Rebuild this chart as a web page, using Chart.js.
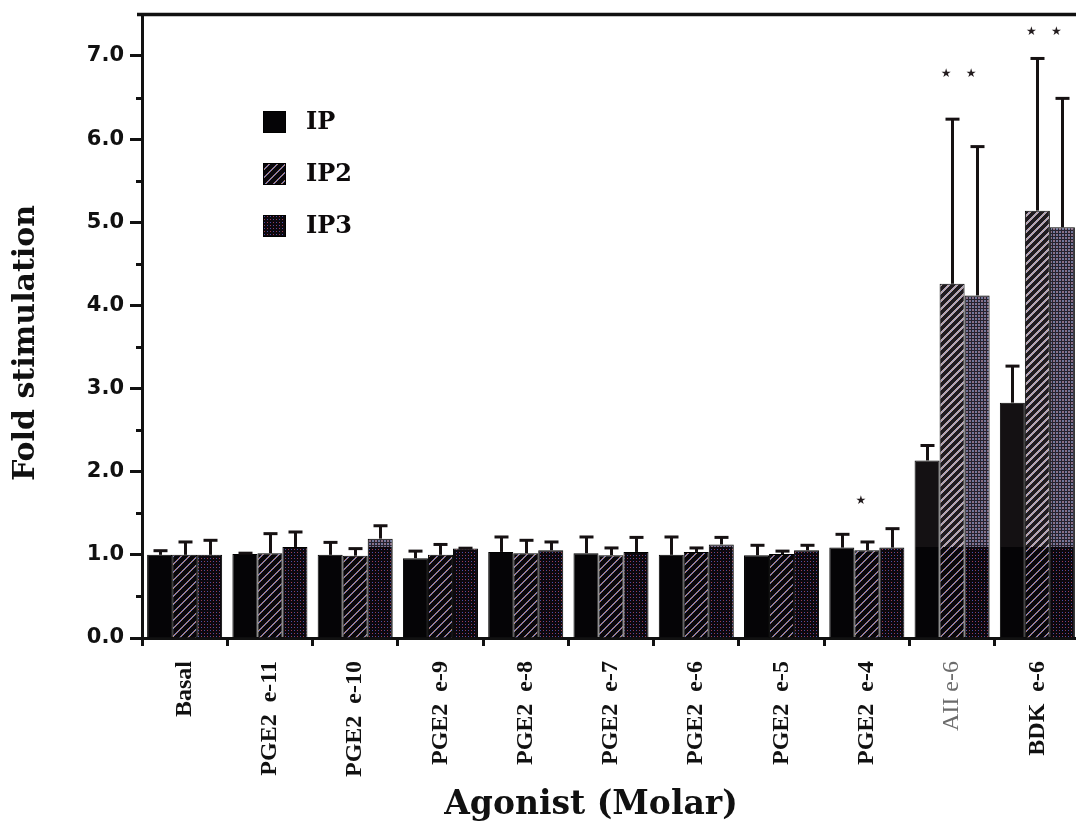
<!DOCTYPE html>
<html>
<head>
<meta charset="utf-8">
<style>
  html, body { margin: 0; padding: 0; background: #ffffff; overflow: hidden; width: 1076px; height: 826px; }
  #wrap { position: relative; width: 1090px; height: 826px; }
  canvas { display: block; }
</style>
<script src="https://cdn.jsdelivr.net/npm/chart.js@4.4.1/dist/chart.umd.min.js"></script>
</head>
<body>
<div id="wrap"><canvas id="c" width="1090" height="826"></canvas></div>
<script>
// ---------------- data ----------------
const categories = ['Basal', 'PGE2  e-11', 'PGE2  e-10', 'PGE2  e-9', 'PGE2  e-8', 'PGE2  e-7',
                    'PGE2  e-6', 'PGE2  e-5', 'PGE2  e-4', 'AII e-6', 'BDK  e-6'];
const seriesNames = ['IP', 'IP2', 'IP3'];

const ipValues  = [1.00, 1.01, 1.00, 0.96, 1.035, 1.02, 1.00, 0.995, 1.087, 2.135, 2.83];
const ip2Values = [1.00, 1.02, 0.99, 1.00, 1.02, 0.995, 1.035, 1.01, 1.055, 4.26, 5.14];
const ip3Values = [1.00, 1.095, 1.195, 1.075, 1.055, 1.035, 1.125, 1.055, 1.087, 4.12, 4.94];

const ipErrors  = [0.05, 0.01, 0.15, 0.085, 0.18, 0.195, 0.215, 0.12, 0.16, 0.18, 0.44];
const ip2Errors = [0.155, 0.235, 0.085, 0.125, 0.155, 0.088, 0.048, 0.035, 0.10, 1.98, 1.83];
const ip3Errors = [0.175, 0.18, 0.155, 0.005, 0.10, 0.175, 0.085, 0.06, 0.228, 1.79, 1.55];

// significance markers (*) : level (in fold units) per category, and which series are marked
const starLevels     = [null, null, null, null, null, null, null, null, 1.65, 6.79, 7.29];
const ipSignificant  = [0, 0, 0, 0, 0, 0, 0, 0, 0, 0, 0];
const ip2Significant = [0, 0, 0, 0, 0, 0, 0, 0, 1, 1, 1];
const ip3Significant = [0, 0, 0, 0, 0, 0, 0, 0, 0, 1, 1];

const yMin = 0, yMax = 7.5, yStep = 1, yMinorStep = 0.5;

// ---------------- styling helpers ----------------
const allValues = [ipValues, ip2Values, ip3Values];
const allErrors = [ipErrors, ip2Errors, ip3Errors];
const allSig = [ipSignificant, ip2Significant, ip3Significant];
const darkBelow = 1.1;   // scan tone change level of the original print
const patternCache = {};

function pixelColor(kind, x, y, light) {
  if (kind === 0) {
    return light ? [20, 17, 19] : [5, 4, 6];
  }
  if (kind === 1) {
    const m = ((x + y) % 8 + 8) % 8;
    const c = ((x - y) % 3 + 3) % 3;
    if (light) {
      if (m < 3) {
        const cols = [[185, 155, 178], [155, 165, 200], [195, 172, 155]];
        return cols[c];
      }
      return [32, 27, 32];
    } else {
      if (m < 2) {
        const cols = [[150, 105, 150], [105, 125, 190], [175, 140, 105]];
        return cols[c];
      }
      return [9, 7, 11];
    }
  }
  // kind 2: dotted
  const cx = Math.floor(x / 3), cy = Math.floor(y / 3);
  const alt = (cx + cy) % 2;
  if (light) {
    if (x % 3 < 2 && y % 3 < 2) return alt ? [140, 112, 135] : [112, 120, 158];
    return [38, 34, 46];
  } else {
    if (x % 3 === 0 && y % 3 === 0) return alt ? [160, 60, 80] : [70, 80, 170];
    return [12, 8, 14];
  }
}

function makeTile(kind, th, h, w) {
  const c = document.createElement('canvas');
  c.width = w; c.height = h;
  const g = c.getContext('2d');
  const img = g.createImageData(w, h);
  for (let yy = 0; yy < h; yy++) {
    for (let xx = 0; xx < w; xx++) {
      const col = pixelColor(kind, xx, yy, yy < th);
      const k = (yy * w + xx) * 4;
      img.data[k] = col[0]; img.data[k + 1] = col[1]; img.data[k + 2] = col[2]; img.data[k + 3] = 255;
    }
  }
  g.putImageData(img, 0, 0);
  return c;
}

function barFill(kind) {
  return function (ctx) {
    const chart = ctx.chart;
    const ys = chart.scales && chart.scales.y;
    if (!ys || !chart.chartArea) return '#0a0a0a';
    const th = Math.round(ys.getPixelForValue(darkBelow));
    if (!isFinite(th)) return '#0a0a0a';
    const key = kind + '_' + th + '_' + chart.height;
    if (!patternCache[key]) {
      patternCache[key] = chart.ctx.createPattern(makeTile(kind, th, chart.height, 24), 'repeat');
    }
    return patternCache[key];
  };
}

function legendFill(kind, ctx) {
  const key = 'legend_' + kind;
  if (!patternCache[key]) patternCache[key] = ctx.createPattern(makeTile(kind, -1, 24, 24), 'repeat');
  return patternCache[key];
}

// ---------------- decorations plugin ----------------
const decor = {
  id: 'decor',
  afterDatasetsDraw(chart) {
    const { ctx, scales: { y } } = chart;
    ctx.save();
    ctx.strokeStyle = '#161112';
    ctx.lineWidth = 3;
    ctx.lineCap = 'butt';
    allErrors.forEach((errs, di) => {
      const meta = chart.getDatasetMeta(di);
      meta.data.forEach((bar, i) => {
        const top = y.getPixelForValue(allValues[di][i] + errs[i]);
        const bx = Math.round(bar.x) + 0.5;
        ctx.beginPath();
        ctx.moveTo(bx, bar.y);
        ctx.lineTo(bx, top);
        ctx.stroke();
        ctx.beginPath();
        ctx.moveTo(bx - 7, top);
        ctx.lineTo(bx + 7, top);
        ctx.stroke();
      });
    });
    // significance stars
    ctx.fillStyle = '#231c1e';
    ctx.font = '12px "DejaVu Sans"';
    ctx.textAlign = 'center';
    ctx.textBaseline = 'middle';
    allSig.forEach((sig, di) => {
      const meta = chart.getDatasetMeta(di);
      sig.forEach((s, i) => {
        if (!s || starLevels[i] === null) return;
        const bar = meta.data[i];
        ctx.fillText('\u2605', bar.x - 6, y.getPixelForValue(starLevels[i]));
      });
    });
    ctx.restore();
  },
  afterDraw(chart) {
    const { ctx, chartArea: a, scales: { y } } = chart;
    ctx.save();
    // top frame line
    ctx.strokeStyle = '#111';
    ctx.lineWidth = 3.5;
    ctx.beginPath();
    ctx.moveTo(a.left - 5, a.top);
    ctx.lineTo(chart.width, a.top);
    ctx.stroke();
    // minor ticks on y axis
    ctx.lineWidth = 3;
    for (let v = yMin + yMinorStep; v < yMax; v += yStep) {
      const py = Math.round(y.getPixelForValue(v)) + 0.5;
      ctx.beginPath();
      ctx.moveTo(a.left - 6, py);
      ctx.lineTo(a.left, py);
      ctx.stroke();
    }
    // axis titles
    ctx.fillStyle = '#111';
    ctx.textAlign = 'center';
    ctx.textBaseline = 'middle';
    ctx.font = 'bold 33px "DejaVu Serif"';
    ctx.fillText('Agonist (Molar)', 591, 805);
    ctx.font = 'bold 30px "DejaVu Serif"';
    ctx.save();
    ctx.translate(26, 343);
    ctx.rotate(-Math.PI / 2);
    ctx.fillText('Fold stimulation', 0, 0);
    ctx.restore();
    // legend
    ctx.textAlign = 'left';
    ctx.font = 'bold 24px "DejaVu Serif"';
    seriesNames.forEach((name, i) => {
      const sy = 111 + i * 52;
      ctx.fillStyle = legendFill(i, ctx);
      ctx.fillRect(263, sy, 23, 22);
      ctx.strokeStyle = '#000';
      ctx.lineWidth = 1;
      ctx.strokeRect(263.5, sy + 0.5, 22, 21);
      ctx.fillStyle = '#0d0a0b';
      ctx.fillText(name, 306, sy + 12);
    });
    ctx.restore();
  }
};

// ---------------- chart ----------------
const datasets = seriesNames.map((name, i) => ({
  label: name,
  data: allValues[i],
  backgroundColor: barFill(i),
  borderColor: '#000',
  borderWidth: 1,
  categoryPercentage: 0.88,
  barPercentage: 1.0
}));

new Chart(document.getElementById('c'), {
  type: 'bar',
  data: { labels: categories, datasets },
  options: {
    responsive: false,
    devicePixelRatio: 1,
    animation: false,
    layout: { padding: { top: 11, right: 10, bottom: 0, left: 0 } },
    plugins: { legend: { display: false }, tooltip: { enabled: false } },
    scales: {
      x: {
        type: 'category',
        offset: true,
        grid: { display: true, drawOnChartArea: false, drawTicks: true, tickLength: 8, tickWidth: 3, tickColor: '#111', offset: true },
        border: { display: true, width: 3, color: '#111' },
        ticks: {
          autoSkip: false,
          minRotation: 90,
          maxRotation: 90,
          padding: 15,
          color: (c) => (c.index === 9 ? '#6b6b6b' : '#111'),
          font: (c) => ({ family: '"Liberation Serif"', size: 24, weight: c.index === 9 ? 'normal' : 'bold' })
        },
        afterFit(s) { s.height = 188; }
      },
      y: {
        min: yMin,
        max: yMax,
        grid: { display: true, drawOnChartArea: false, drawTicks: true, tickLength: 12, tickWidth: 3, tickColor: '#111' },
        border: { display: true, width: 3, color: '#111' },
        ticks: {
          stepSize: yStep,
          includeBounds: false,
          padding: 6,
          color: '#111',
          font: { family: '"DejaVu Sans"', size: 21, weight: 'bold', lineHeight: 0.8 },
          callback: (v) => Number(v).toFixed(1)
        },
        afterFit(s) { s.width = 142; }
      }
    }
  },
  plugins: [decor]
});
</script>
</body>
</html>
